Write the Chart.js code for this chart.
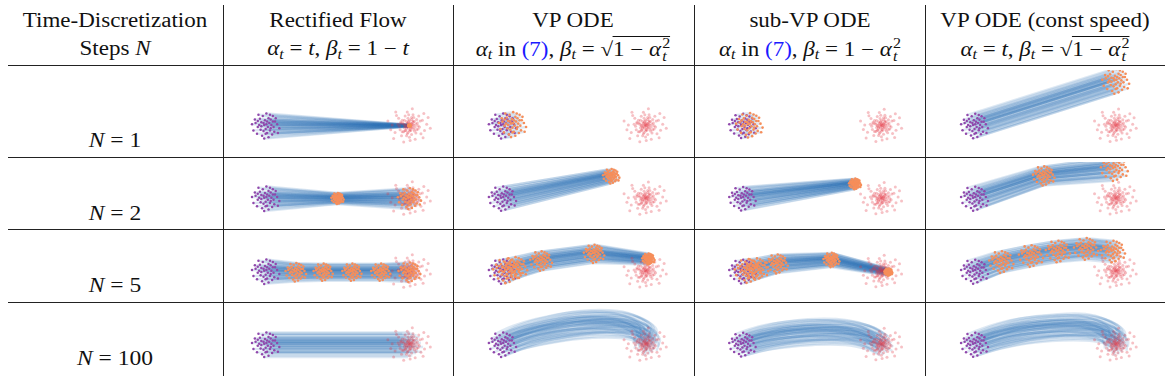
<!DOCTYPE html>
<html>
<head>
<meta charset="utf-8">
<script src="https://cdn.jsdelivr.net/npm/chart.js@4.4.1/dist/chart.umd.min.js"></script>
<style>
  body { margin: 0; width: 1171px; height: 376px; position: relative; overflow: hidden; background: #fff;
         font-family: "Liberation Serif", "Times New Roman", "DejaVu Serif", serif; color: #111; }
  .hl { position: absolute; left: 8px; width: 1157px; height: 1px; background: #222; }
  .vl { position: absolute; top: 5px; bottom: 0; width: 1px; background: #222; }
  .txt { position: absolute; white-space: nowrap; font-size: 20px; line-height: 20px;
         transform: translateX(-50%) scaleX(1.15); }
  .lbl { font-size: 21px; line-height: 21px; transform: translateX(-50%) scaleX(1.12); }
  .txt sub { font-size: 0.7em; vertical-align: -0.25em; line-height: 0; }
  .st { display: inline-flex; flex-direction: column; font-size: 0.7em; line-height: 0.9; vertical-align: 0.55em; margin-left: 1px; }
  .ref { color: #1a1aff; }
  .rad { border-top: 1px solid #111; padding-top: 1px; }
  .cell { position: absolute; }
</style>
</head>
<body>
<div id="app"></div>
<script>
// rows of the table: number of time-discretization steps
const stepCounts = [1, 2, 5, 100];
const methodNames = ['Rectified Flow', 'VP ODE', 'sub-VP ODE', 'VP ODE (const speed)'];

// hand-read offsets of the samples around each cloud centre (plot units)
const sourceCloud = [
  [0.05, 0.1], [-0.3, 0.25], [0.35, -0.2], [-0.15, -0.4], [0.5, 0.3], [-0.55, -0.1], [0.2, 0.55], [-0.4, 0.5], [0.6, -0.45], [-0.1, 0.05],
  [0.15, -0.1], [-0.7, 0.2], [0.8, 0.1], [0.3, 0.8], [-0.25, -0.75], [0.45, -0.65], [-0.85, -0.35], [0.0, -0.25], [-0.05, 0.4], [0.25, 0.2],
  [-0.5, 0.8], [0.7, 0.55], [-0.35, -0.3], [0.1, -0.55], [0.95, -0.2], [-0.2, 0.7], [0.4, 0.05], [-0.6, -0.6], [0.05, 0.9], [-0.95, 0.1],
  [0.55, -0.1], [-0.15, 0.2], [0.3, -0.35], [-0.45, 0.05], [0.2, -0.85], [0.65, 0.3], [-0.3, -0.05], [0.1, 0.3], [-0.75, 0.45], [0.5, 0.7],
  [0.0, -0.6], [-0.55, 0.35], [0.85, -0.55], [-0.1, -0.95], [0.35, 0.45],
];
const targetCloud = [
  [0.1, 0.05], [-0.2, 0.3], [0.3, -0.25], [-0.35, -0.15], [0.15, 0.45], [-0.5, 0.4], [0.55, 0.2], [-0.1, -0.5], [0.45, -0.55], [-0.65, -0.3],
  [0.7, -0.1], [-0.3, 0.7], [0.25, 0.8], [-0.8, 0.1], [0.9, 0.4], [0.0, -0.85], [-0.55, -0.75], [0.65, 0.7], [-1.0, -0.5], [1.05, -0.35],
  [-0.15, 1.0], [0.4, -1.0], [-0.9, 0.75], [1.2, 0.1], [-1.2, 0.05], [0.05, 0.2], [-0.05, -0.2], [0.2, -0.05], [-0.25, 0.05], [0.35, 0.3],
  [-0.4, -0.45], [0.5, -0.3], [-0.6, 0.15], [0.3, 0.6], [-0.2, -0.75], [0.8, -0.6], [-0.75, 0.55], [0.1, -0.35], [-0.1, 0.55], [0.6, 0.0],
  [1.3, 0.6], [-1.3, -0.3], [0.2, 1.25], [-0.4, -1.2], [0.95, -0.9], [-0.95, 1.0], [1.0, 0.9], [-1.1, -0.95], [0.0, 0.0], [0.15, -0.65],
  [-0.45, 0.2], [0.45, 0.1], [-0.3, -0.35], [0.25, 0.25], [-0.7, -0.05], [0.75, 0.35], [-0.05, 0.8], [0.05, -1.1], [1.45, -0.2], [-1.5, 0.35],
  [0.0, 0.1], [-0.1, -0.05], [0.15, 0.15], [-0.15, 0.15], [0.2, -0.15], [-0.2, -0.2], [0.05, -0.3], [-0.05, 0.3], [0.3, 0.05], [-0.3, 0.0],
  [0.1, -0.15], [-0.1, 0.2], [0.25, 0.35], [-0.25, -0.35], [0.4, -0.1], [-0.4, 0.1], [0.0, 0.4], [0.0, -0.4], [0.35, -0.4], [-0.35, 0.4],
  [0.5, 0.45], [-0.5, -0.45], [0.15, 0.6], [-0.15, -0.6], [0.6, -0.25], [-0.6, 0.25], [0.05, 0.0], [-0.05, 0.05], [0.2, 0.1], [-0.2, -0.1],
];
const sourceCenter = [0, 0];
const targetCenter = [10, 0];

// mean trajectory per row: [x, y, spread of the samples at that step]
const rectifiedFlowPaths = [
  [[0, 0, 1], [10, 0, 0.08]],
  [[0, 0, 1], [5, 0, 0.45], [10, 0, 0.85]],
  [[0, 0, 1], [2.1, -0.05, 0.75], [4.0, -0.05, 0.7], [6.0, -0.05, 0.7], [8.0, -0.05, 0.7], [10, -0.05, 0.8]],
  [[0, 0, 1], [10, 0, 1]],
];
const vpOdePaths = [
  [[0, 0, 1], [0.7, 0.1, 1.0]],
  [[0, 0, 1], [7.6, 1.7, 0.6]],
  [[0, 0, 1], [0.3, 0.05, 1], [0.87, 0.27, 0.9], [2.7, 0.8, 0.8], [6.4, 1.35, 0.75], [10.2, 0.95, 0.45]],
  [[0, 0, 1], [1.2, 0.55, 1.05], [2.7, 1.0, 1.1], [5.4, 1.5, 1.15], [8.0, 1.55, 1.1], [9.4, 1.2, 1.0], [10.1, 0.6, 0.95], [10, 0, 0.9]],
];
const subVpOdePaths = [
  [[0, 0, 1], [0.5, 0.05, 1.0]],
  [[0, 0, 1], [8.1, 1.14, 0.45]],
  [[0, 0, 1], [0.4, 0.05, 1], [1.0, 0.2, 0.9], [2.5, 0.6, 0.8], [6.4, 0.9, 0.6], [10.5, -0.05, 0.3]],
  [[0, 0, 1], [1.2, 0.4, 1.05], [2.8, 0.75, 1.1], [5.2, 1.0, 1.1], [7.5, 0.95, 1.05], [9.1, 0.55, 1.0], [10, 0, 0.9]],
];
const constSpeedPaths = [
  [[0, 0, 1], [10, 3.35, 1.0]],
  [[0, 0, 1], [4.9, 1.75, 0.8], [9.9, 2.3, 1.0]],
  [[0, 0, 1], [1.9, 0.74, 0.9], [4.0, 1.2, 0.9], [5.9, 1.55, 0.9], [7.9, 1.75, 0.9], [9.8, 1.55, 0.9]],
  [[0, 0, 1], [1.5, 0.55, 1.05], [3.2, 1.0, 1.1], [5.5, 1.3, 1.1], [7.8, 1.35, 1.1], [9.2, 1.05, 1.0], [9.95, 0.5, 0.95], [10, 0, 0.9]],
];
const methodPaths = [rectifiedFlowPaths, vpOdePaths, subVpOdePaths, constSpeedPaths];

// page layout (pixels)
const columns = [
  { left: 224, width: 229, srcX: 263, tgtX: 412 },
  { left: 454, width: 240, srcX: 500, tgtX: 648 },
  { left: 695, width: 230, srcX: 740, tgtX: 884 },
  { left: 926, width: 245, srcX: 972, tgtX: 1118 },
];
const rows = [
  { top: 66, height: 91, srcY: 127, labelTop: 131 },
  { top: 158, height: 71, srcY: 199, labelTop: 204 },
  { top: 230, height: 72, srcY: 272, labelTop: 276 },
  { top: 303, height: 73, srcY: 345, labelTop: 349 },
];
const colCenters = [115, 338, 573, 810, 1045];

const app = document.getElementById('app');

const headerLines = [
  ['Time-Discretization', 'Steps <i>N</i>'],
  [methodNames[0], '<i>α</i><sub><i>t</i></sub> = <i>t</i>, <i>β</i><sub><i>t</i></sub> = 1 − <i>t</i>'],
  [methodNames[1], '<i>α</i><sub><i>t</i></sub> in <span class="ref">(7)</span>, <i>β</i><sub><i>t</i></sub> = √<span class="rad">1 − <i>α</i><span class="st"><span>2</span><i>t</i></span></span>'],
  [methodNames[2], '<i>α</i><sub><i>t</i></sub> in <span class="ref">(7)</span>, <i>β</i><sub><i>t</i></sub> = 1 − <i>α</i><span class="st"><span>2</span><i>t</i></span>'],
  [methodNames[3], '<i>α</i><sub><i>t</i></sub> = <i>t</i>, <i>β</i><sub><i>t</i></sub> = √<span class="rad">1 − <i>α</i><span class="st"><span>2</span><i>t</i></span></span>'],
];

let html = '';
headerLines.forEach(([top, bottom], i) => {
  html += `<div class="txt" style="left:${colCenters[i]}px;top:10px">${top}</div>`;
  html += `<div class="txt" style="left:${colCenters[i]}px;top:38px">${bottom}</div>`;
});
stepCounts.forEach((n, r) => {
  html += `<div class="txt lbl" style="left:${colCenters[0]}px;top:${rows[r].labelTop - 1}px"><i>N</i>&nbsp;=&nbsp;${n}</div>`;
});
[65, 157, 229, 302].forEach(y => { html += `<div class="hl" style="top:${y}px"></div>`; });
[223, 453, 694, 925].forEach(x => { html += `<div class="vl" style="left:${x}px"></div>`; });
app.innerHTML = html;

function drawCell(col, row, path, showSteps, smooth) {
  const box = document.createElement('div');
  box.className = 'cell';
  box.style.left = col.left + 'px';
  box.style.top = row.top + 'px';
  const canvas = document.createElement('canvas');
  canvas.width = col.width;
  canvas.height = row.height;
  box.appendChild(canvas);
  app.appendChild(box);

  const k = (col.tgtX - col.srcX) / (targetCenter[0] - sourceCenter[0]);

  const trajectories = sourceCloud.map(([dx, dy]) => ({
    data: path.map(([x, y, s]) => ({ x: x + s * dx, y: y + s * dy })),
    showLine: true,
    borderColor: 'rgba(45, 115, 182, 0.16)',
    borderWidth: 2.4,
    pointRadius: 0,
    tension: smooth ? 0.4 : 0,
    order: 3,
  }));

  const steps = showSteps
    ? path.slice(1).flatMap(([x, y, s]) => sourceCloud.map(([dx, dy]) => ({ x: x + s * dx, y: y + s * dy })))
    : [];

  new Chart(canvas, {
    type: 'scatter',
    data: {
      datasets: [
        ...trajectories,
        {
          data: targetCloud.map(([dx, dy]) => ({ x: targetCenter[0] + dx, y: targetCenter[1] + dy })),
          backgroundColor: 'rgba(226, 50, 62, 0.3)',
          borderWidth: 0,
          pointRadius: 1.5,
          order: 2,
        },
        {
          data: sourceCloud.map(([dx, dy]) => ({ x: sourceCenter[0] + dx, y: sourceCenter[1] + dy })),
          backgroundColor: 'rgb(145, 72, 172)',
          borderWidth: 0,
          pointRadius: 1.25,
          order: 1,
        },
        {
          data: steps,
          backgroundColor: 'rgb(246, 142, 90)',
          borderWidth: 0,
          pointRadius: 1.3,
          order: 0,
        },
      ],
    },
    options: {
      responsive: false,
      animation: false,
      devicePixelRatio: 1,
      layout: { padding: 0 },
      plugins: { legend: { display: false }, tooltip: { enabled: false } },
      scales: {
        x: { display: false, min: (col.left - col.srcX) / k, max: (col.left + col.width - col.srcX) / k },
        y: { display: false, min: -(row.top + row.height - row.srcY) / k, max: (row.srcY - row.top) / k },
      },
    },
  });
}

methodPaths.forEach((paths, c) => {
  paths.forEach((path, r) => {
    const n = stepCounts[r];
    drawCell(columns[c], rows[r], path, n <= 5, n > 5);
  });
});
</script>
</body>
</html>
